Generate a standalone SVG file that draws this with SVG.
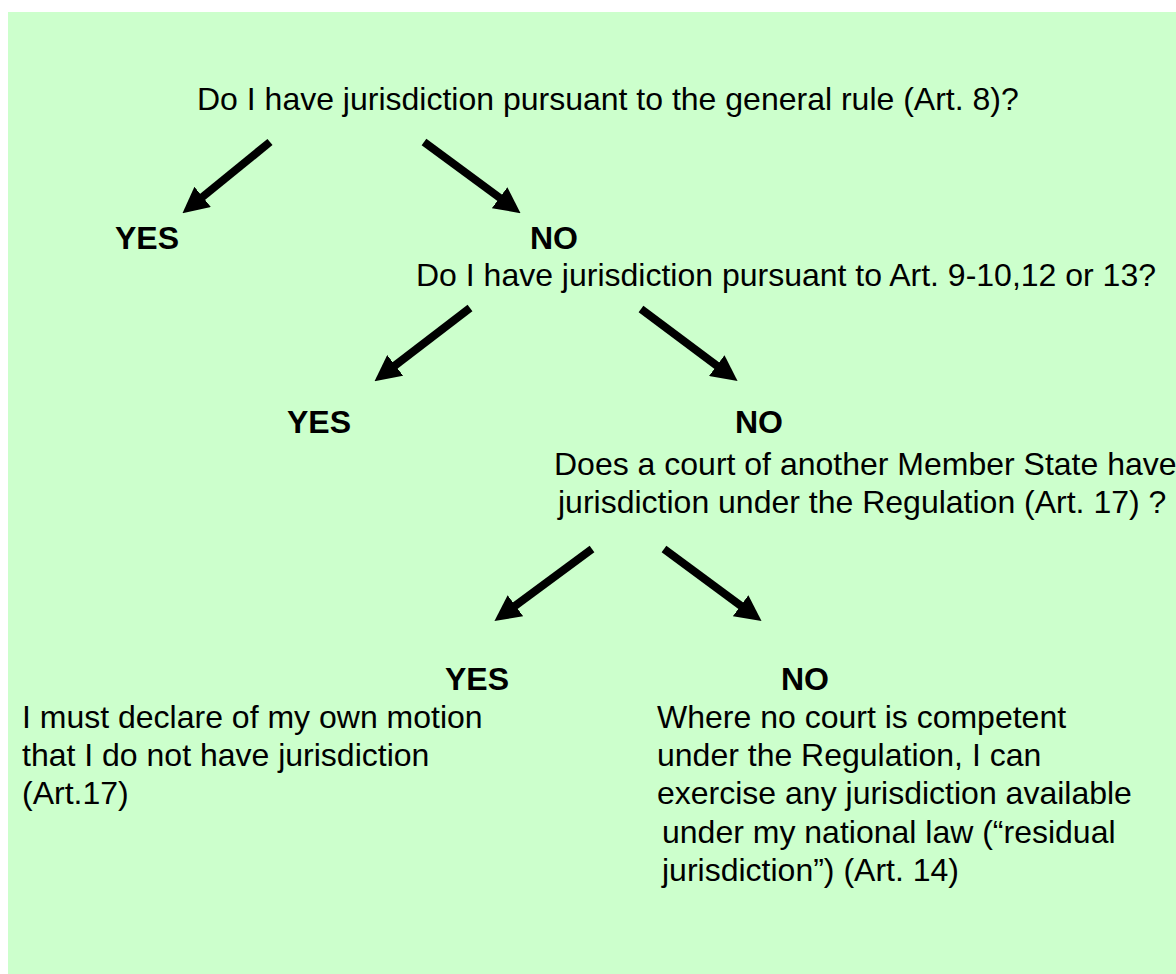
<svg xmlns="http://www.w3.org/2000/svg" width="1176" height="974" viewBox="0 0 1176 974">
<style>
.t{font-family:"Liberation Sans",Arial,sans-serif;font-size:32px;fill:#000}
.b{font-weight:bold}
.c{stroke:#000;stroke-width:8;fill:none;marker-end:url(#ah)}
</style>
<defs>
<marker id="ah" markerUnits="userSpaceOnUse" markerWidth="26" markerHeight="26" viewBox="0 0 24 24" refX="1" refY="12" orient="auto">
<path d="M0,0 L24,12 L0,24 z" fill="#000"/>
</marker>
</defs>
<rect x="0" y="0" width="1176" height="974" fill="#fff"/>
<rect id="background" x="8" y="12" width="1168" height="962" fill="#CCFFCC"/>
<g id="q1"><text class="t" x="197" y="110">Do I have jurisdiction pursuant to the general rule (Art. 8)?</text></g>
<g id="yes1"><text class="t b" x="115" y="249">YES</text></g>
<g id="no1"><text class="t b" x="530" y="249">NO</text></g>
<g id="q2"><text class="t" x="416" y="286">Do I have jurisdiction pursuant to Art. 9-10,12 or 13?</text></g>
<g id="yes2"><text class="t b" x="287" y="433">YES</text></g>
<g id="no2"><text class="t b" x="735" y="433">NO</text></g>
<g id="q3"><text class="t" x="554" y="475">Does a court of another Member State have</text><text class="t" x="558" y="513">jurisdiction under the Regulation (Art. 17) ?</text></g>
<g id="yes3"><text class="t b" x="445" y="690">YES</text></g>
<g id="no3"><text class="t b" x="781" y="690">NO</text></g>
<g id="outcome-yes"><text class="t" x="22" y="728">I must declare of my own motion</text><text class="t" x="22" y="766">that I do not have jurisdiction</text><text class="t" x="22" y="804">(Art.17)</text></g>
<g id="outcome-no"><text class="t" x="657" y="728">Where no court is competent</text><text class="t" x="657" y="766">under the Regulation, I can</text><text class="t" x="657" y="804">exercise any jurisdiction available</text><text class="t" x="662" y="843">under my national law (“residual</text><text class="t" x="662" y="881">jurisdiction”) (Art. 14)</text></g>
<g id="connectors">
<line class="c" x1="270" y1="142" x2="201.8" y2="197.5"/>
<line class="c" x1="424" y1="142" x2="500.5" y2="198.4"/>
<line class="c" x1="470" y1="308" x2="394.3" y2="366"/>
<line class="c" x1="641" y1="309" x2="717.6" y2="366.2"/>
<line class="c" x1="592" y1="549" x2="514.5" y2="606.3"/>
<line class="c" x1="664" y1="549" x2="741.5" y2="606.3"/>
</g>
</svg>
